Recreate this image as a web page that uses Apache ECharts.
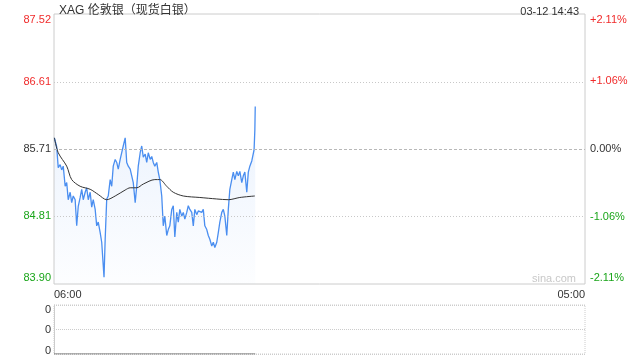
<!DOCTYPE html>
<html><head><meta charset="utf-8">
<script src="https://cdn.jsdelivr.net/npm/echarts@6/dist/echarts.min.js"></script>
<style>html,body{margin:0;padding:0;background:#fff}#c{width:640px;height:360px}</style>
</head><body><div id="c"></div>
<script>
const chartTitle = 'XAG 伦敦银（现货白银）';
const stamp = '03-12 14:43';
const prevClose = 85.71;
const priceTicks = [83.90, 84.81, 85.71, 86.61, 87.52];
const pctTicks = [-2.11, -1.06, 0, 1.06, 2.11];
const timeLabels = ['06:00', '05:00'];
const sessionMinutes = 1380;
const volTicks = [0, 1, 2];

const minutes = [1,7,11,16,20,24,29,33,37,42,46,50,55,59,63,68,72,76,81,85,89,94,98,102,107,111,115,120,124,130,133,137,141,146,150,154,159,163,167,172,176,180,185,189,193,198,202,206,211,215,219,224,228,232,237,241,245,250,254,258,262,267,271,275,280,284,288,293,297,301,306,310,314,319,323,327,332,336,340,345,349,353,358,362,366,371,375,379,384,388,392,397,401,405,410,414,418,423,427,431,436,440,444,449,453,457,462,466,470,475,479,483,488,492,496,501,505,509,514,518,520,522,523];
const prices = [85.86,85.74,85.46,85.50,85.43,85.48,85.21,85.26,85.03,85.13,84.99,85.08,85.03,84.68,84.94,85.06,85.17,85.03,85.13,85.19,85.03,85.13,84.93,85.03,84.90,84.68,84.73,84.59,84.46,83.99,84.50,85.04,85.08,85.30,85.21,85.48,85.57,85.53,85.44,85.57,85.66,85.75,85.86,85.53,85.48,85.44,85.35,85.26,84.99,85.21,85.48,85.66,85.75,85.60,85.64,85.53,85.66,85.57,85.61,85.53,85.48,85.53,85.40,85.30,85.08,84.68,84.81,84.55,84.63,84.68,84.90,84.95,84.53,84.86,84.73,84.90,84.81,84.86,84.77,84.86,84.95,84.90,84.86,84.68,84.90,84.83,84.88,84.90,84.86,84.90,84.68,84.63,84.55,84.50,84.41,84.46,84.39,84.46,84.59,84.73,84.86,84.90,84.81,84.55,84.90,85.17,85.30,85.40,85.30,85.41,85.35,85.41,85.26,85.35,85.40,85.13,85.40,85.48,85.55,85.57,85.70,85.97,86.28];
const avgMinutes = [1,11,33,46,68,94,115,137,159,185,198,215,232,262,275,293,310,336,379,423,453,483,522];
const avgPrices = [85.86,85.66,85.48,85.30,85.21,85.17,85.10,85.03,85.08,85.16,85.19,85.19,85.24,85.30,85.30,85.21,85.13,85.08,85.06,85.04,85.03,85.06,85.08];
const volMinutes = [0, 523];
const volumes = [0, 0];

const RED = '#f02b2b', GREEN = '#1aa51a', DARK = '#333';
const FONT = '"Liberation Sans", Arial, "Noto Sans CJK SC", sans-serif';
const pMin = priceTicks[0], pMax = priceTicks[priceTicks.length - 1];

function richSet() {
  const base = {fontSize: 11, fontFamily: FONT};
  return {
    up: Object.assign({color: RED}, base),
    dn: Object.assign({color: GREEN}, base),
    eq: Object.assign({color: DARK}, base),
    upT: Object.assign({color: RED, padding: [11, 0, 0, 0]}, base),
    dnB: Object.assign({color: GREEN, padding: [0, 0, 12, 0]}, base),
    volT: Object.assign({color: DARK, padding: [9, 0, 0, 0]}, base),
    volB: Object.assign({color: DARK, padding: [0, 0, 6, 0]}, base),
  };
}
function tag(v, ref, lo, hi) {
  if (v >= hi - 1e-9) return 'upT';
  if (v <= lo + 1e-9) return 'dnB';
  if (Math.abs(v - ref) < 1e-9) return 'eq';
  return v > ref ? 'up' : 'dn';
}

const chart = echarts.init(document.getElementById('c'), null, {renderer: 'canvas'});
chart.setOption({
  animation: false,
  backgroundColor: '#fff',
  textStyle: {fontFamily: FONT},
  title: [
    {text: chartTitle, left: 54, top: 0, textStyle: {fontSize: 12, fontWeight: 'normal', color: DARK, fontFamily: FONT}},
    {text: stamp, right: 56, top: 1, textStyle: {fontSize: 11, fontWeight: 'normal', color: DARK, fontFamily: FONT}}
  ],
  graphic: [{type: 'text', left: 532, top: 273, style: {text: 'sina.com', fill: '#c8c8c8', fontSize: 11, fontFamily: FONT}}],
  grid: [
    {left: 54, right: 55, top: 14, height: 270, show: true, borderColor: '#ccc', borderWidth: 1},
    {left: 54, right: 55, top: 305, height: 49, show: true, borderColor: '#ccc', borderWidth: 1, borderType: 'dotted'}
  ],
  xAxis: [
    {type: 'value', gridIndex: 0, min: 0, max: sessionMinutes, interval: sessionMinutes,
     axisLine: {show: false}, axisTick: {show: false}, splitLine: {show: false},
     axisLabel: {fontSize: 11, color: DARK, margin: 5, alignMinLabel: 'left', alignMaxLabel: 'right',
       formatter: v => v === 0 ? timeLabels[0] : timeLabels[1]}},
    {type: 'value', gridIndex: 1, min: 0, max: sessionMinutes, interval: sessionMinutes,
     axisLine: {show: false}, axisTick: {show: false}, splitLine: {show: false}, axisLabel: {show: false}}
  ],
  yAxis: [
    {type: 'value', gridIndex: 0, min: pMin, max: pMax, position: 'left',
     axisLine: {show: false}, axisTick: {show: false, customValues: priceTicks}, splitLine: {show: false},
     axisLabel: {customValues: priceTicks, margin: 3, fontSize: 11, rich: richSet(),
       formatter: v => '{' + tag(v, prevClose, pMin, pMax) + '|' + v.toFixed(2) + '}'}},
    {type: 'value', gridIndex: 0, min: pctTicks[0], max: pctTicks[pctTicks.length - 1], position: 'right',
     axisLine: {show: false}, axisTick: {show: false, customValues: pctTicks}, splitLine: {show: false},
     axisLabel: {customValues: pctTicks, margin: 5, fontSize: 11, rich: richSet(),
       formatter: v => '{' + tag(v, 0, pctTicks[0], pctTicks[pctTicks.length - 1]) + '|' + (v > 0 ? '+' : '') + v.toFixed(2) + '%}'}},
    {type: 'value', gridIndex: 1, min: 0, max: 2, interval: 1,
     axisLine: {show: true, lineStyle: {color: '#ccc'}}, axisTick: {show: false},
     splitLine: {show: true, lineStyle: {color: '#ccc', type: 'dotted'}},
     axisLabel: {margin: 3, fontSize: 11, rich: richSet(),
       formatter: v => v === 2 ? '{volT|0}' : (v === 0 ? '{volB|0}' : '{eq|0}')}}
  ],
  series: [
    {type: 'line', xAxisIndex: 0, yAxisIndex: 0, data: minutes.map((m, i) => [m, prices[i]]),
     showSymbol: false, symbol: 'none', lineStyle: {color: '#4a8ef0', width: 1.3}, z: 3,
     areaStyle: {origin: 'start', color: new echarts.graphic.LinearGradient(0, 0, 0, 1, [
       {offset: 0, color: 'rgba(74,142,240,0.16)'}, {offset: 1, color: 'rgba(74,142,240,0.02)'}])},
     markLine: {silent: true, symbol: 'none', label: {show: false},
       data: [
         {yAxis: priceTicks[3], lineStyle: {color: '#c8c8c8', type: [1, 2], width: 1}},
         {yAxis: priceTicks[2], lineStyle: {color: '#b8b8b8', type: [3, 2], width: 1}},
         {yAxis: priceTicks[1], lineStyle: {color: '#c8c8c8', type: [1, 2], width: 1}}
       ]}},
    {type: 'line', xAxisIndex: 0, yAxisIndex: 0, data: avgMinutes.map((m, i) => [m, avgPrices[i]]),
     showSymbol: false, symbol: 'none', smooth: 0.3, lineStyle: {color: '#333', width: 1}, z: 4},
    {type: 'line', xAxisIndex: 1, yAxisIndex: 2, data: volMinutes.map((m, i) => [m, volumes[i]]),
     showSymbol: false, symbol: 'none', lineStyle: {color: '#666', width: 1}, z: 4}
  ]
});
</script></body></html>
